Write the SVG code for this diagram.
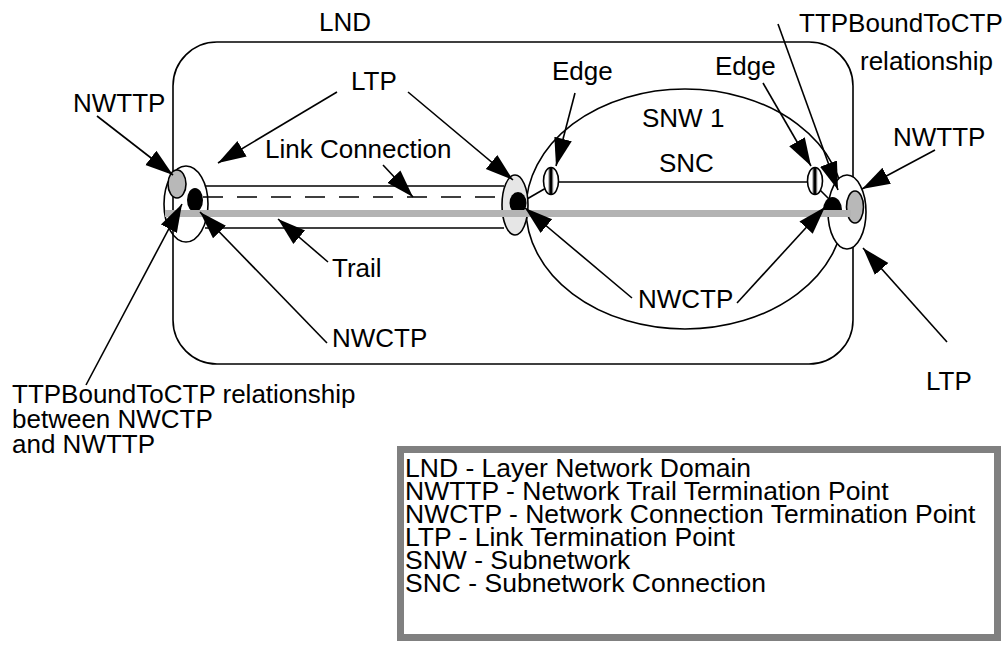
<svg xmlns="http://www.w3.org/2000/svg" width="1008" height="648" viewBox="0 0 1008 648">
<style>
text{font-family:"Liberation Sans",Arial,sans-serif;font-size:26px;fill:#000}
.lg{font-size:26.5px}
.ln{fill:none;stroke:#000;stroke-width:1.6}
.ar{fill:none;stroke:#000;stroke-width:1.6;marker-end:url(#ah)}
</style>
<defs>
<marker id="ah" markerUnits="userSpaceOnUse" markerWidth="30" markerHeight="20" viewBox="0 -10 30 20" refX="28" refY="0" orient="auto">
<path d="M0,-9 L28,0 L0,9 z" fill="#000"/>
</marker>
<linearGradient id="stripe" x1="0" y1="0" x2="1" y2="0">
<stop offset="0" stop-color="#fff"/>
<stop offset="0.3" stop-color="#fff"/>
<stop offset="0.36" stop-color="#888"/>
<stop offset="0.44" stop-color="#000"/>
<stop offset="0.56" stop-color="#000"/>
<stop offset="0.62" stop-color="#aaa"/>
<stop offset="0.7" stop-color="#fff"/>
<stop offset="1" stop-color="#fff"/>
</linearGradient>
</defs>
<g id="lnd">
<rect x="173" y="42" width="680" height="322" rx="44" ry="44" class="ln"/>
<text x="319" y="31">LND</text>
</g>
<g id="snw1">
<ellipse cx="685" cy="209" rx="159" ry="120" class="ln"/>
<text x="642" y="127">SNW 1</text>
</g>
<g id="link">
<line x1="206" y1="186" x2="504" y2="186" class="ln"/>
<line x1="205" y1="228" x2="504" y2="228" class="ln"/>
<line x1="203" y1="197" x2="504" y2="197" class="ln" stroke-dasharray="20 14"/>
</g>
<g id="snc">
<line x1="558" y1="182" x2="808" y2="182" class="ln"/>
<line x1="527" y1="199" x2="546" y2="188" class="ln"/>
<line x1="820" y1="190" x2="829" y2="199" class="ln"/>
<text x="659" y="172">SNC</text>
</g>
<g id="ltp-left">
<ellipse cx="186" cy="204" rx="22" ry="38" class="ln"/>
</g>
<g id="ltp-mid">
<ellipse cx="515" cy="205" rx="13" ry="30" fill="#e6e6e6" stroke="#000" stroke-width="1.6"/>
</g>
<g id="ltp-right">
<ellipse cx="847" cy="212" rx="19" ry="37" fill="#fff" stroke="#000" stroke-width="1.6"/>
</g>
<g id="edge-left">
<ellipse cx="551" cy="181" rx="7.5" ry="13.5" fill="url(#stripe)" stroke="#000" stroke-width="1.6"/>
</g>
<g id="edge-right">
<ellipse cx="815" cy="181" rx="7.5" ry="13.5" fill="url(#stripe)" stroke="#000" stroke-width="1.6"/>
</g>
<g id="nwttp-left">
<ellipse cx="177" cy="184" rx="9" ry="14" fill="#b8b8b8" stroke="#000" stroke-width="1.6"/>
</g>
<g id="nwctp-left">
<ellipse cx="195" cy="200" rx="8" ry="12" fill="#000"/>
</g>
<g id="nwctp-mid">
<ellipse cx="518" cy="203" rx="8.5" ry="11" fill="#000"/>
</g>
<g id="nwctp-right">
<path d="M823,210 A9.5,13 0 0 1 842,210 z" fill="#000"/>
</g>
<g id="nwttp-right">
<ellipse cx="855" cy="207" rx="8.5" ry="16" fill="#b8b8b8" stroke="#000" stroke-width="1.6"/>
</g>
<g id="trail">
<line x1="165" y1="213.5" x2="851" y2="213.5" stroke="#b3b3b3" stroke-width="7"/>
</g>
<g id="connectors">
<line x1="97" y1="116" x2="173" y2="175" class="ar"/>
<line x1="337" y1="92" x2="218" y2="163" class="ar"/>
<line x1="408" y1="92" x2="513" y2="180" class="ar"/>
<line x1="383" y1="165" x2="413" y2="197" class="ar"/>
<line x1="575" y1="93" x2="556" y2="166" class="ar"/>
<line x1="763" y1="83" x2="811" y2="166" class="ar"/>
<line x1="778" y1="24" x2="838" y2="190" class="ar"/>
<line x1="935" y1="150" x2="862" y2="189" class="ar"/>
<line x1="947" y1="342" x2="863" y2="248" class="ar"/>
<line x1="328" y1="262" x2="278" y2="219" class="ar"/>
<line x1="327" y1="343" x2="200" y2="212" class="ar"/>
<line x1="632" y1="298" x2="525" y2="208" class="ar"/>
<line x1="737" y1="303" x2="825" y2="207" class="ar"/>
<line x1="86" y1="385" x2="182" y2="204" class="ar"/>
</g>
<g id="labels">
<text x="73" y="112">NWTTP</text>
<text x="351" y="90">LTP</text>
<text x="265" y="158">Link Connection</text>
<text x="552" y="80">Edge</text>
<text x="715" y="75">Edge</text>
<text x="799" y="32">TTPBoundToCTP</text>
<text x="860" y="70">relationship</text>
<text x="893" y="146">NWTTP</text>
<text x="332" y="277">Trail</text>
<text x="332" y="347">NWCTP</text>
<text x="638" y="308">NWCTP</text>
<text x="926" y="390">LTP</text>
<text x="12" y="403">TTPBoundToCTP relationship</text>
<text x="12" y="428">between NWCTP</text>
<text x="12" y="453">and NWTTP</text>
</g>
<g id="legend">
<rect x="400.5" y="449.5" width="597" height="188" fill="#fff" stroke="#808080" stroke-width="7"/>
<text class="lg" x="405" y="477">LND - Layer Network Domain</text>
<text class="lg" x="405" y="500">NWTTP - Network Trail Termination Point</text>
<text class="lg" x="405" y="523">NWCTP - Network Connection Termination Point</text>
<text class="lg" x="405" y="546">LTP - Link Termination Point</text>
<text class="lg" x="405" y="569">SNW - Subnetwork</text>
<text class="lg" x="405" y="592">SNC - Subnetwork Connection</text>
</g>
</svg>
